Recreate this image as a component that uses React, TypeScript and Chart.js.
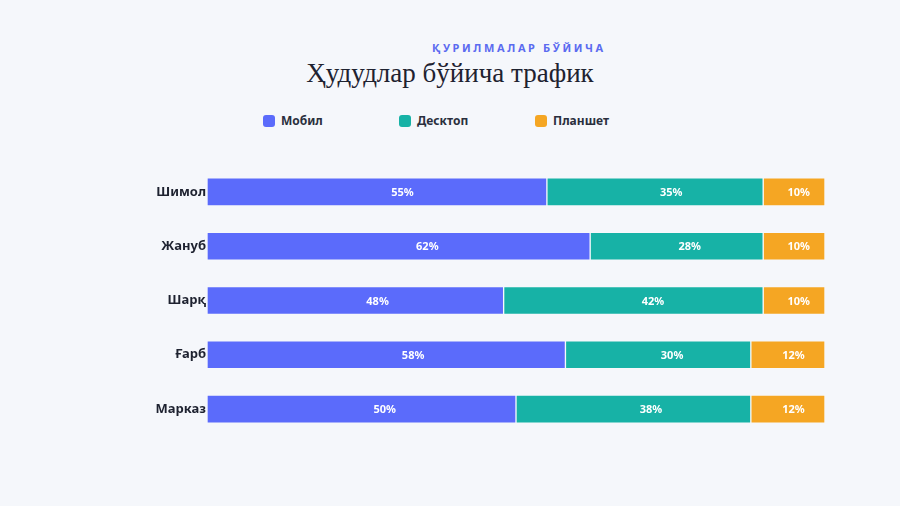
import { Chart, registerables } from "chart.js";
import { useEffect, useRef } from "react";

Chart.register(...registerables);

const regions = ["Шимол", "Жануб", "Шарқ", "Ғарб", "Марказ"];
const seriesNames = ["Мобил", "Десктоп", "Планшет"];
const mobile = [55, 62, 48, 58, 50];
const desktop = [35, 28, 42, 30, 38];
const tablet = [10, 10, 10, 12, 12];
const colors = ["#5b6bfb", "#17b2a6", "#f5a623"];

const SANS = "'Noto Sans', 'Open Sans', sans-serif";

// white % labels inside every segment (sit a bit right of centre, like the original)
const segmentLabels = {
  id: "segmentLabels",
  afterDatasetsDraw(chart: any) {
    const ctx = chart.ctx;
    ctx.save();
    ctx.fillStyle = "#ffffff";
    ctx.font = `bold 11px ${SANS}`;
    ctx.textAlign = "center";
    ctx.textBaseline = "middle";
    chart.data.datasets.forEach((ds: any, i: number) => {
      const meta = chart.getDatasetMeta(i);
      meta.data.forEach((bar: any, j: number) => {
        const { x, base, y } = bar.getProps(["x", "base", "y"], true);
        ctx.fillText(ds.data[j] + "%", base + (x - base) * 0.575, y + 1);
      });
    });
    ctx.restore();
  },
};

const ChartComponent = () => {
  const chartRef = useRef<HTMLCanvasElement>(null);

  useEffect(() => {
    if (!chartRef.current) return;
    const values = [mobile, desktop, tablet];
    const chartInstance = new Chart(chartRef.current, {
      type: "bar",
      data: {
        labels: regions,
        datasets: seriesNames.map((name, i) => ({
          label: name,
          data: values[i],
          backgroundColor: colors[i],
          borderColor: "rgba(255,255,255,0.2)",
          borderWidth: 1,
          borderSkipped: false,
          barThickness: 28,
        })),
      },
      options: {
        indexAxis: "y",
        animation: false,
        responsive: true,
        maintainAspectRatio: false,
        layout: { padding: { left: 0, right: 75, top: 0, bottom: 0 } },
        plugins: {
          legend: { display: false },
          tooltip: { enabled: false },
          title: { display: false },
        },
        scales: {
          x: { stacked: true, min: 0, max: 100, display: false },
          y: {
            stacked: true,
            grid: { display: false, drawTicks: false },
            border: { display: false },
            afterFit: (scale: any) => {
              scale.width = 207;
            },
            ticks: {
              padding: 1,
              color: "#1e2230",
              font: { family: SANS, size: 13, weight: "bold" },
            },
          },
        },
      },
      plugins: [segmentLabels],
    });

    return () => {
      chartInstance.destroy();
    };
  }, []);

  return (
    <div style={{ position: "absolute", left: 0, top: 156, width: 900, height: 289 }}>
      <canvas ref={chartRef}></canvas>
    </div>
  );
};

export default function App() {
  return (
    <div
      style={{
        position: "fixed",
        inset: 0,
        width: 900,
        height: 506,
        background: "#f5f7fb",
        overflow: "hidden",
      }}
    >
      <div
        style={{
          position: "absolute",
          top: 40,
          left: 432,
          fontFamily: SANS,
          fontWeight: 700,
          fontSize: 11,
          letterSpacing: "2.6px",
          color: "#5b6bf0",
          whiteSpace: "nowrap",
        }}
      >
        ҚУРИЛМАЛАР БЎЙИЧА
      </div>
      <div
        style={{
          position: "absolute",
          top: 58,
          left: 0,
          width: 900,
          textAlign: "center",
          fontFamily: "'Liberation Serif', 'DejaVu Serif', serif",
          fontSize: 27,
          color: "#1e2230",
          whiteSpace: "nowrap",
        }}
      >
        Ҳудудлар бўйича трафик
      </div>
      <div style={{ position: "absolute", top: 112, left: 263, display: "flex" }}>
        {seriesNames.map((name, i) => (
          <div key={name} style={{ width: 136, display: "flex", alignItems: "center" }}>
            <span
              style={{
                width: 12,
                height: 12,
                borderRadius: 3,
                background: colors[i],
                marginRight: 6,
                display: "inline-block",
              }}
            />
            <span style={{ fontFamily: SANS, fontWeight: 700, fontSize: 12, color: "#2a2f3d" }}>
              {name}
            </span>
          </div>
        ))}
      </div>
      <ChartComponent />
    </div>
  );
}
